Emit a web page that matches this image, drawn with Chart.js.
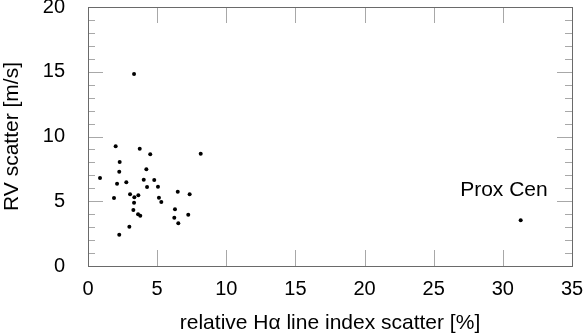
<!DOCTYPE html>
<html>
<head>
<meta charset="utf-8">
<script src="https://cdn.jsdelivr.net/npm/chart.js@4.4.1/dist/chart.umd.min.js"></script>
<style>
  html, body { margin: 0; padding: 0; background: #fff; }
  #wrap { width: 587px; height: 336px; position: relative; }
</style>
</head>
<body>
<div id="wrap"><canvas id="chart" width="587" height="336"></canvas></div>
<script>
// Hα scatter (%) vs RV scatter (m/s) for the sample stars
const haScatter = [2.00, 3.74, 4.50, 8.15, 2.29, 4.22, 2.26, 0.87, 4.03, 4.79, 2.10,
  2.77, 4.27, 5.06, 6.49, 7.35, 3.04, 3.64, 3.35, 1.88, 5.13, 5.30, 3.33, 3.28,
  6.29, 3.62, 3.78, 7.25, 6.24, 6.53, 2.99, 2.26, 3.33, 31.29];
const rvScatter = [9.24, 9.06, 8.63, 8.67, 8.03, 7.47, 7.28, 6.80, 6.66, 6.64, 6.36,
  6.46, 6.10, 6.12, 5.74, 5.54, 5.54, 5.46, 5.31, 5.25, 5.27, 4.94, 4.89, 4.32,
  4.38, 3.99, 3.88, 3.96, 3.73, 3.30, 3.03, 2.42, 14.83, 3.53];

// star label (last point)
const labelName = 'Prox Cen';
const labelIndex = 33;

const xTicks = [0, 5, 10, 15, 20, 25, 30, 35];
const yTicks = [0, 5, 10, 15, 20];

const FONT = "'Liberation Sans', Arial, Helvetica, sans-serif";

const points = haScatter.map((x, i) => ({ x: x, y: rvScatter[i] }));

// frame with inward ticks, like the original plot
const framePlugin = {
  id: 'frame',
  afterDraw(chart) {
    const ctx = chart.ctx;
    const a = chart.chartArea;
    const xs = chart.scales.x, ys = chart.scales.y;
    ctx.save();
    ctx.lineWidth = 1;
    ctx.strokeStyle = '#a8a8a8';
    ctx.beginPath();
    for (let v = ys.min; v <= ys.max; v++) {
      const py = Math.round(ys.getPixelForValue(v)) + 0.5;
      const len = v % 5 === 0 ? 15 : 7;
      ctx.moveTo(a.left, py); ctx.lineTo(a.left + len, py);
      ctx.moveTo(a.right, py); ctx.lineTo(a.right - len, py);
    }
    xTicks.forEach(v => {
      const px = Math.round(xs.getPixelForValue(v)) + 0.5;
      ctx.moveTo(px, a.bottom); ctx.lineTo(px, a.bottom - 16);
      ctx.moveTo(px, a.top); ctx.lineTo(px, a.top + 16);
    });
    ctx.stroke();
    ctx.strokeStyle = '#6a6a6a';
    ctx.strokeRect(Math.round(a.left) + 0.5, Math.round(a.top) + 0.5,
      Math.round(a.right - a.left), Math.round(a.bottom - a.top));
    // star name
    const px = xs.getPixelForValue(haScatter[labelIndex]);
    const py = ys.getPixelForValue(rvScatter[labelIndex]);
    ctx.fillStyle = '#000';
    ctx.font = '21px ' + FONT;
    ctx.textAlign = 'right';
    ctx.textBaseline = 'alphabetic';
    ctx.fillText(labelName, px + 27, py - 24);
    ctx.restore();
  }
};

new Chart(document.getElementById('chart'), {
  type: 'scatter',
  data: {
    datasets: [{
      data: points,
      backgroundColor: '#000',
      borderWidth: 0,
      pointRadius: 2,
      pointHoverRadius: 2
    }]
  },
  options: {
    responsive: false,
    animation: false,
    events: [],
    layout: { padding: { top: 7, right: 15, left: 0, bottom: 0 } },
    plugins: { legend: { display: false }, tooltip: { enabled: false } },
    scales: {
      x: {
        type: 'linear',
        min: 0, max: 35,
        grid: { display: false },
        border: { display: false },
        afterBuildTicks: s => { s.ticks = xTicks.map(v => ({ value: v })); },
        afterFit: s => { s.height = 70; s.paddingLeft = 0; s.paddingRight = 0; },
        ticks: { color: '#000', padding: 3, maxRotation: 0, font: { family: FONT, size: 20 } },
        title: {
          display: true,
          text: 'relative Hα line index scatter [%]',
          color: '#000',
          padding: { top: 0, bottom: 0 },
          font: { family: FONT, size: 21 }
        }
      },
      y: {
        type: 'linear',
        min: 0, max: 20,
        grid: { display: false },
        border: { display: false },
        afterBuildTicks: s => { s.ticks = yTicks.map(v => ({ value: v })); },
        afterFit: s => { s.width = 88; s.paddingTop = 0; s.paddingBottom = 0; },
        ticks: { color: '#000', padding: 15, font: { family: FONT, size: 20 } },
        title: {
          display: true,
          text: 'RV scatter [m/s]',
          color: '#000',
          padding: { top: 0, bottom: 0 },
          font: { family: FONT, size: 21 }
        }
      }
    }
  },
  plugins: [framePlugin]
});
</script>
</body>
</html>
